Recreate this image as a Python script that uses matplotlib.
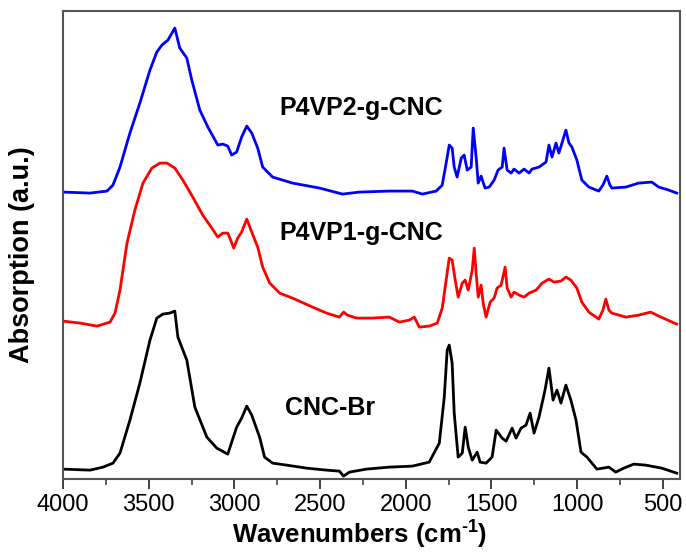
import matplotlib
matplotlib.use('Agg')
import matplotlib.pyplot as plt
from matplotlib.ticker import MultipleLocator

plt.rcParams['font.family'] = ['Liberation Sans', 'DejaVu Sans']
plt.rcParams['mathtext.fontset'] = 'custom'
plt.rcParams['mathtext.rm'] = 'Liberation Sans'
plt.rcParams['mathtext.default'] = 'regular'

# FTIR spectra (wavenumber cm-1, absorption a.u. above own baseline)
cnc_br_wn = [4000, 3843, 3767, 3709, 3668, 3610, 3552, 3493, 3453, 3418, 3377, 3348, 3330,
             3278, 3231, 3161, 3103, 3039, 2987, 2958, 2928, 2899, 2853, 2824, 2777, 2695,
             2579, 2462, 2387, 2363, 2329, 2230, 2096, 1962, 1863, 1804, 1775, 1758, 1746,
             1729, 1717, 1694, 1670, 1653, 1635, 1612, 1583, 1566, 1531, 1496, 1472, 1437,
             1414, 1379, 1356, 1327, 1298, 1274, 1251, 1222, 1187, 1164, 1140, 1117, 1094,
             1065, 1036, 1006, 977, 942, 884, 814, 774, 727, 669, 599, 506, 418]
cnc_br_abs = [0.00, -0.01, 0.02, 0.06, 0.16, 0.49, 0.86, 1.29, 1.51, 1.55, 1.56, 1.58, 1.32,
              1.09, 0.62, 0.32, 0.21, 0.15, 0.42, 0.51, 0.63, 0.54, 0.32, 0.12, 0.06, 0.04,
              0.01, -0.01, -0.02, -0.07, -0.03, 0.00, 0.02, 0.03, 0.07, 0.26, 0.72, 1.19, 1.24,
              1.06, 0.56, 0.12, 0.16, 0.42, 0.22, 0.09, 0.17, 0.07, 0.06, 0.12, 0.39, 0.31,
              0.28, 0.41, 0.31, 0.41, 0.44, 0.56, 0.36, 0.52, 0.79, 1.01, 0.69, 0.79, 0.66,
              0.84, 0.69, 0.49, 0.17, 0.12, 0.00, 0.02, -0.03, 0.01, 0.05, 0.04, 0.01, -0.04]

p4vp1_wn = [4000, 3901, 3802, 3726, 3697, 3668, 3627, 3581, 3534, 3482, 3435, 3394, 3348,
            3301, 3243, 3185, 3132, 3097, 3068, 3039, 3022, 3004, 2981, 2958, 2928, 2899,
            2864, 2835, 2794, 2736, 2661, 2544, 2462, 2387, 2363, 2340, 2288, 2195, 2096,
            2037, 1979, 1950, 1921, 1863, 1816, 1787, 1764, 1746, 1729, 1711, 1694, 1670,
            1653, 1635, 1612, 1600, 1589, 1577, 1560, 1548, 1531, 1507, 1484, 1467, 1443,
            1420, 1408, 1385, 1368, 1338, 1309, 1280, 1239, 1204, 1164, 1135, 1094, 1065,
            1036, 1001, 972, 931, 873, 849, 832, 814, 797, 715, 640, 570, 523, 418]
p4vp1_abs = [0.00, -0.02, -0.05, -0.01, 0.08, 0.31, 0.78, 1.11, 1.38, 1.53, 1.58, 1.58, 1.53,
             1.41, 1.24, 1.06, 0.93, 0.84, 0.88, 0.88, 0.81, 0.73, 0.83, 0.89, 1.02, 0.89,
             0.74, 0.54, 0.38, 0.28, 0.23, 0.14, 0.08, 0.04, 0.09, 0.06, 0.03, 0.03, 0.04,
             -0.01, 0.01, 0.04, -0.06, -0.05, -0.02, 0.13, 0.41, 0.63, 0.61, 0.41, 0.24, 0.38,
             0.41, 0.31, 0.51, 0.73, 0.48, 0.24, 0.36, 0.18, 0.04, 0.19, 0.23, 0.33, 0.36,
             0.54, 0.33, 0.24, 0.29, 0.26, 0.24, 0.28, 0.31, 0.38, 0.42, 0.39, 0.40, 0.44,
             0.41, 0.33, 0.19, 0.09, 0.02, 0.11, 0.22, 0.11, 0.08, 0.04, 0.06, 0.09, 0.05, -0.03]

p4vp2_wn = [4000, 3843, 3744, 3709, 3668, 3610, 3552, 3493, 3453, 3423, 3388, 3348, 3319,
            3278, 3249, 3202, 3155, 3097, 3068, 3039, 3016, 2987, 2958, 2928, 2899, 2864,
            2835, 2777, 2661, 2503, 2369, 2270, 2096, 1962, 1903, 1822, 1787, 1764, 1746,
            1729, 1717, 1700, 1676, 1659, 1641, 1618, 1606, 1589, 1577, 1560, 1537, 1513,
            1484, 1461, 1437, 1426, 1408, 1385, 1368, 1338, 1309, 1280, 1263, 1222, 1181,
            1164, 1146, 1123, 1106, 1088, 1065, 1047, 1030, 1001, 972, 931, 873, 849, 826,
            808, 797, 715, 640, 564, 523, 465, 418]
p4vp2_abs = [0.00, -0.01, 0.01, 0.07, 0.25, 0.59, 0.89, 1.22, 1.40, 1.47, 1.52, 1.64, 1.44,
             1.34, 1.12, 0.82, 0.65, 0.47, 0.48, 0.46, 0.37, 0.40, 0.55, 0.66, 0.59, 0.44,
             0.25, 0.15, 0.09, 0.04, -0.02, 0.00, 0.01, 0.01, -0.02, 0.01, 0.07, 0.29, 0.47,
             0.44, 0.25, 0.15, 0.34, 0.37, 0.22, 0.25, 0.64, 0.35, 0.09, 0.16, 0.04, 0.05,
             0.12, 0.22, 0.25, 0.44, 0.22, 0.19, 0.23, 0.19, 0.23, 0.19, 0.23, 0.25, 0.30,
             0.47, 0.35, 0.49, 0.39, 0.49, 0.62, 0.49, 0.45, 0.32, 0.12, 0.05, 0.01, 0.07, 0.16,
             0.07, 0.04, 0.05, 0.09, 0.10, 0.05, 0.02, -0.01]

offsets = [0.0, 1.48, 2.77]
names = ['CNC-Br', 'P4VP1-g-CNC', 'P4VP2-g-CNC']
colors = ['black', '#ff0000', '#0000ff']

fig = plt.figure(figsize=(6.86, 5.52), dpi=100)
ax = fig.add_axes([0.092, 0.132, 0.899, 0.848])

spectra = [(cnc_br_wn, cnc_br_abs), (p4vp1_wn, p4vp1_abs), (p4vp2_wn, p4vp2_abs)]
for (wn, a), off, c in zip(spectra, offsets, colors):
    ax.plot(wn, [v + off for v in a], color=c, lw=2.0, solid_joinstyle='round')

# labels sit next to each trace
label_pos = [(2440, 0.61), (2260, 2.36), (2260, 3.61)]
for (x, y), name in zip(label_pos, names):
    ax.text(x, y, name, ha='center', va='center', fontsize=18, fontweight='bold')

ax.set_xlim(4000, 400)
ax.set_ylim(-0.10, 4.58)
ax.xaxis.set_major_locator(MultipleLocator(500))
ax.xaxis.set_minor_locator(MultipleLocator(250))
ax.set_yticks([])
ax.tick_params(axis='x', which='major', direction='out', length=7, width=1.3,
               labelsize=17, pad=4, colors='#333333', labelcolor='black')
ax.tick_params(axis='x', which='minor', direction='out', length=4, width=1.1,
               colors='#333333')
for s in ax.spines.values():
    s.set_linewidth(1.5)
    s.set_color('#555555')

ax.set_xlabel('Wavenumbers (cm$^{\u20101}$)', fontsize=18.5, fontweight='bold')
ax.xaxis.set_label_coords(0.48, -0.085)
ax.set_ylabel('Absorption (a.u.)', fontsize=19.5, fontweight='bold')
ax.yaxis.set_label_coords(-0.045, 0.479)

fig.savefig('out.png', dpi=100)
